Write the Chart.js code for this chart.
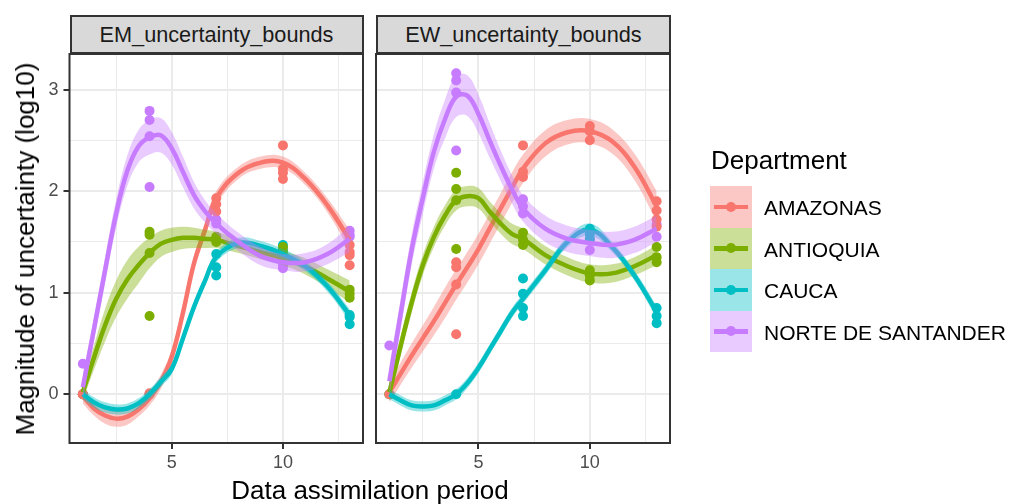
<!DOCTYPE html>
<html>
<head>
<meta charset="utf-8">
<script src="https://cdn.jsdelivr.net/npm/chart.js@4.4.1/dist/chart.umd.min.js"></script>
<style>
  html, body { margin: 0; padding: 0; background: #ffffff; }
  #wrap { position: relative; width: 1012px; height: 504px; overflow: hidden; font-family: 'Liberation Sans', Arial, sans-serif; }
  canvas { position: absolute; left: 0; top: 0; }
  .strip { position: absolute; top: 15px; height: 39px; background: #d9d9d9; box-sizing: border-box; border: 2px solid #333333;
           color: #1a1a1a; font-size: 21.7px; line-height: 35px; text-align: center; }
  .title { position: absolute; color: #000000; font-size: 26px; line-height: 26px; white-space: nowrap; }
  .key { position: absolute; left: 710px; width: 42px; height: 41.5px; }
  .key .ln { position: absolute; left: 4px; right: 4px; top: 18.5px; height: 4.5px; }
  .key .dot { position: absolute; left: 16px; top: 15.75px; width: 10px; height: 10px; border-radius: 50%; }
  .lab { position: absolute; left: 764px; font-size: 21px; line-height: 21px; color: #000000; white-space: nowrap; }
</style>
</head>
<body>
<div id="wrap">
  <canvas id="panelEM" width="1012" height="504"></canvas>
  <canvas id="panelEW" width="1012" height="504"></canvas>
  <div class="strip" style="left:69.5px;width:294px;">EM_uncertainty_bounds</div>
  <div class="strip" style="left:376px;width:295px;">EW_uncertainty_bounds</div>
  <div class="title" style="left:370px;top:477px;transform:translateX(-50%);">Data assimilation period</div>
  <div class="title" style="left:25px;top:249px;transform:translate(-50%,-50%) rotate(-90deg);">Magnitude of uncertainty (log10)</div>
  <div class="title" style="left:711px;top:147px;">Department</div>
  <div id="legend"></div>
</div>
<script>
// departamentos y colores (paleta por defecto de ggplot)
const DEPARTMENTS = ['AMAZONAS', 'ANTIOQUIA', 'CAUCA', 'NORTE DE SANTANDER'];
const COLORS = ['#F8766D', '#7CAE00', '#00BFC4', '#C77CFF'];
const BAND_FILLS = ['rgba(248,118,109,0.4)', 'rgba(124,174,0,0.4)', 'rgba(0,191,196,0.4)', 'rgba(199,124,255,0.4)'];

// ejes
const X_TICKS = [2.5, 5, 7.5, 10, 12.5];
const X_MAJOR = [5, 10];
const Y_TICKS = [0, 0.5, 1, 1.5, 2, 2.5, 3];
const Y_MAJOR = [0, 1, 2, 3];

// x de las curvas suavizadas
const SMOOTH_X = [1, 1.5, 2, 2.5, 3, 3.5, 4, 4.5, 5, 5.5, 6, 6.5, 7, 8, 9, 10, 11, 12, 13];

// ---- EM_uncertainty_bounds ----
const EM_POINTS_AMAZONAS = [[1, 0], [1, 0], [4, 0], [4, 0.01], [7, 1.93], [7, 1.87], [7, 1.80], [10, 2.45], [10, 2.22], [10, 2.18], [10, 2.12], [13, 1.47], [13, 1.40], [13, 1.37], [13, 1.27]];
const EM_POINTS_ANTIOQUIA = [[1, 0], [4, 1.60], [4, 1.57], [4, 1.39], [4, 0.77], [7, 1.55], [7, 1.52], [7, 1.50], [10, 1.45], [10, 1.40], [10, 1.35], [13, 1.03], [13, 0.99], [13, 0.95]];
const EM_POINTS_CAUCA = [[1, 0], [4, 0], [7, 1.38], [7, 1.25], [7, 1.17], [10, 1.47], [10, 1.42], [10, 1.35], [13, 0.78], [13, 0.76], [13, 0.69]];
const EM_POINTS_NORTE = [[1, 0.30], [4, 2.79], [4, 2.70], [4, 2.54], [4, 2.04], [7, 1.72], [7, 1.68], [10, 1.30], [10, 1.27], [10, 1.24], [13, 1.61], [13, 1.57], [13, 1.55]];

const EM_FIT_AMAZONAS = [-0.02, -0.14, -0.21, -0.24, -0.22, -0.15, -0.04, 0.12, 0.37, 0.80, 1.29, 1.62, 1.93, 2.18, 2.28, 2.28, 2.12, 1.86, 1.52];
const EM_FIT_ANTIOQUIA = [0.02, 0.36, 0.68, 0.94, 1.13, 1.27, 1.39, 1.48, 1.52, 1.54, 1.54, 1.53, 1.52, 1.46, 1.40, 1.34, 1.26, 1.14, 1.01];
const EM_FIT_CAUCA = [0.0, -0.08, -0.13, -0.15, -0.14, -0.09, 0.0, 0.12, 0.25, 0.55, 0.86, 1.12, 1.35, 1.49, 1.46, 1.38, 1.26, 1.06, 0.78];
const EM_FIT_NORTE = [0.07, 0.64, 1.22, 1.78, 2.20, 2.44, 2.53, 2.55, 2.42, 2.19, 1.96, 1.80, 1.68, 1.50, 1.36, 1.30, 1.30, 1.38, 1.53];

const EM_SE_AMAZONAS = [0.07, 0.07, 0.08, 0.08, 0.08, 0.07, 0.07, 0.07, 0.07, 0.07, 0.07, 0.07, 0.07, 0.06, 0.06, 0.06, 0.06, 0.07, 0.10];
const EM_SE_ANTIOQUIA = [0.08, 0.12, 0.16, 0.18, 0.19, 0.18, 0.15, 0.13, 0.12, 0.11, 0.10, 0.09, 0.08, 0.07, 0.07, 0.07, 0.08, 0.09, 0.11];
const EM_SE_CAUCA = [0.05, 0.05, 0.05, 0.05, 0.05, 0.05, 0.05, 0.05, 0.05, 0.05, 0.05, 0.05, 0.05, 0.05, 0.05, 0.05, 0.05, 0.05, 0.06];
const EM_SE_NORTE = [0.12, 0.12, 0.13, 0.14, 0.15, 0.16, 0.17, 0.17, 0.16, 0.15, 0.13, 0.11, 0.10, 0.09, 0.09, 0.08, 0.09, 0.10, 0.13];

// ---- EW_uncertainty_bounds ----
const EW_POINTS_AMAZONAS = [[1, 0], [4, 1.30], [4, 1.25], [4, 1.08], [4, 0.59], [7, 2.45], [7, 2.19], [7, 2.14], [10, 2.64], [10, 2.59], [10, 2.50], [13, 1.90], [13, 1.81], [13, 1.72], [13, 1.65]];
const EW_POINTS_ANTIOQUIA = [[1, 0], [4, 2.18], [4, 2.02], [4, 1.91], [4, 1.43], [7, 1.59], [7, 1.52], [7, 1.47], [10, 1.22], [10, 1.17], [10, 1.12], [13, 1.45], [13, 1.35], [13, 1.30]];
const EW_POINTS_CAUCA = [[1, 0], [4, 0], [7, 1.14], [7, 0.99], [7, 0.85], [7, 0.77], [10, 1.63], [10, 1.58], [10, 1.53], [13, 0.85], [13, 0.77], [13, 0.70]];
const EW_POINTS_NORTE = [[1, 0.48], [4, 3.16], [4, 3.09], [4, 2.97], [4, 2.40], [7, 1.92], [7, 1.85], [7, 1.78], [10, 1.52], [10, 1.42], [13, 1.67], [13, 1.55]];

const EW_FIT_AMAZONAS = [0.02, 0.20, 0.38, 0.55, 0.72, 0.90, 1.08, 1.25, 1.43, 1.63, 1.83, 2.03, 2.22, 2.47, 2.58, 2.59, 2.49, 2.24, 1.85];
const EW_FIT_ANTIOQUIA = [0.02, 0.47, 0.90, 1.27, 1.55, 1.76, 1.91, 1.95, 1.93, 1.80, 1.68, 1.58, 1.53, 1.37, 1.26, 1.19, 1.19, 1.26, 1.37];
const EW_FIT_CAUCA = [0.0, -0.06, -0.11, -0.12, -0.11, -0.06, 0.0, 0.11, 0.26, 0.44, 0.62, 0.80, 0.94, 1.22, 1.50, 1.62, 1.45, 1.17, 0.81];
const EW_FIT_NORTE = [0.13, 0.78, 1.42, 1.93, 2.39, 2.71, 2.93, 2.94, 2.76, 2.50, 2.25, 2.02, 1.83, 1.63, 1.53, 1.49, 1.47, 1.52, 1.63];

const EW_SE_AMAZONAS = [0.10, 0.11, 0.12, 0.13, 0.14, 0.15, 0.15, 0.15, 0.15, 0.15, 0.15, 0.15, 0.14, 0.13, 0.12, 0.12, 0.12, 0.13, 0.15];
const EW_SE_ANTIOQUIA = [0.10, 0.10, 0.10, 0.10, 0.10, 0.10, 0.10, 0.10, 0.10, 0.10, 0.10, 0.10, 0.10, 0.09, 0.09, 0.09, 0.09, 0.09, 0.10];
const EW_SE_CAUCA = [0.05, 0.05, 0.05, 0.05, 0.05, 0.05, 0.05, 0.05, 0.05, 0.05, 0.05, 0.05, 0.05, 0.05, 0.05, 0.06, 0.05, 0.05, 0.06];
const EW_SE_NORTE = [0.15, 0.15, 0.15, 0.16, 0.17, 0.19, 0.20, 0.20, 0.19, 0.17, 0.15, 0.14, 0.13, 0.13, 0.13, 0.13, 0.13, 0.13, 0.13];

const PANELS = {
    EM: {
        points: [EM_POINTS_AMAZONAS, EM_POINTS_ANTIOQUIA, EM_POINTS_CAUCA, EM_POINTS_NORTE],
        fit: [EM_FIT_AMAZONAS, EM_FIT_ANTIOQUIA, EM_FIT_CAUCA, EM_FIT_NORTE],
        se: [EM_SE_AMAZONAS, EM_SE_ANTIOQUIA, EM_SE_CAUCA, EM_SE_NORTE]
    },
    EW: {
        points: [EW_POINTS_AMAZONAS, EW_POINTS_ANTIOQUIA, EW_POINTS_CAUCA, EW_POINTS_NORTE],
        fit: [EW_FIT_AMAZONAS, EW_FIT_ANTIOQUIA, EW_FIT_CAUCA, EW_FIT_NORTE],
        se: [EW_SE_AMAZONAS, EW_SE_ANTIOQUIA, EW_SE_CAUCA, EW_SE_NORTE]
    }
};

// borde del panel (theme_bw)
const panelBorder = {
    id: 'panelBorder',
    afterDraw(chart) {
        const a = chart.chartArea;
        const ctx = chart.ctx;
        ctx.save();
        ctx.strokeStyle = '#333333';
        ctx.lineWidth = 2;
        ctx.strokeRect(a.left, a.top, a.right - a.left, a.bottom - a.top);
        ctx.restore();
    }
};

function curve(values) {
    return SMOOTH_X.map((x, k) => ({ x: x, y: values[k] }));
}

function buildDatasets(panel) {
    const datasets = [];
    // puntos primero (debajo de las curvas)
    panel.points.forEach((pts, i) => {
        datasets.push({
            data: pts.map(p => ({ x: p[0], y: p[1] })),
            backgroundColor: COLORS[i],
            borderWidth: 0,
            pointRadius: 5,
            showLine: false,
            order: 100
        });
    });
    // bandas de confianza + líneas
    panel.fit.forEach((fit, i) => {
        const se = panel.se[i];
        const base = 60 - i * 3;
        const smooth = { showLine: true, pointRadius: 0, tension: 0.4 };
        datasets.push(Object.assign({
            data: curve(fit.map((v, k) => v - se[k])),
            borderWidth: 0, borderColor: 'rgba(0,0,0,0)', fill: false, order: base
        }, smooth));
        datasets.push(Object.assign({
            data: curve(fit.map((v, k) => v + se[k])),
            borderWidth: 0, borderColor: 'rgba(0,0,0,0)', backgroundColor: BAND_FILLS[i], fill: '-1', order: base
        }, smooth));
        datasets.push(Object.assign({
            data: curve(fit),
            borderColor: COLORS[i], borderWidth: 4.5, fill: false, order: base - 1
        }, smooth));
    });
    return datasets;
}

function makePanel(canvasId, panel, showY, padLeft, padRight) {
    const ctx = document.getElementById(canvasId).getContext('2d');
    return new Chart(ctx, {
        type: 'scatter',
        data: { datasets: buildDatasets(panel) },
        options: {
            responsive: false,
            animation: false,
            devicePixelRatio: 1,
            layout: { padding: { left: padLeft, right: padRight, top: 54, bottom: 31 } },
            plugins: { legend: { display: false }, tooltip: { enabled: false } },
            scales: {
                x: {
                    type: 'linear', min: 0.4, max: 13.6,
                    afterBuildTicks: s => { s.ticks = X_TICKS.map(v => ({ value: v })); },
                    afterFit: s => { s.height = 30; },
                    border: { display: false },
                    grid: {
                        color: '#ebebeb',
                        lineWidth: c => X_MAJOR.includes(c.tick.value) ? 2 : 1,
                        drawTicks: true, tickLength: 6, tickWidth: 2,
                        tickColor: c => X_MAJOR.includes(c.tick.value) ? '#333333' : 'rgba(0,0,0,0)'
                    },
                    ticks: {
                        autoSkip: false, maxRotation: 0, padding: 3,
                        color: '#4d4d4d', font: { family: "'Liberation Sans', Arial, sans-serif", size: 18 },
                        callback: v => X_MAJOR.includes(v) ? String(v) : ''
                    }
                },
                y: {
                    type: 'linear', min: -0.48, max: 3.35,
                    afterBuildTicks: s => { s.ticks = Y_TICKS.map(v => ({ value: v })); },
                    afterFit: s => { s.width = showY ? 69.5 : 0; },
                    border: { display: false },
                    grid: {
                        color: '#ebebeb',
                        lineWidth: c => Y_MAJOR.includes(c.tick.value) ? 2 : 1,
                        drawTicks: showY, tickLength: 6, tickWidth: 2,
                        tickColor: c => Y_MAJOR.includes(c.tick.value) ? '#333333' : 'rgba(0,0,0,0)'
                    },
                    ticks: {
                        display: showY, padding: 5,
                        color: '#4d4d4d', font: { family: "'Liberation Sans', Arial, sans-serif", size: 18 },
                        callback: v => Y_MAJOR.includes(v) ? String(v) : ''
                    }
                }
            }
        },
        plugins: [panelBorder]
    });
}

// leyenda
function buildLegend() {
    const legend = document.getElementById('legend');
    DEPARTMENTS.forEach((name, i) => {
        const top = 186 + i * 41.5;
        const key = document.createElement('div');
        key.className = 'key';
        key.style.top = top + 'px';
        key.style.background = BAND_FILLS[i];
        key.innerHTML = `<div class="ln" style="background:${COLORS[i]}"></div><div class="dot" style="background:${COLORS[i]}"></div>`;
        legend.appendChild(key);
        const lab = document.createElement('div');
        lab.className = 'lab';
        lab.style.top = (top + 11) + 'px';
        lab.textContent = name;
        legend.appendChild(lab);
    });
}

makePanel('panelEM', PANELS.EM, true, 0, 1012 - 363);
makePanel('panelEW', PANELS.EW, false, 376, 1012 - 670);
buildLegend();
</script>
</body>
</html>
